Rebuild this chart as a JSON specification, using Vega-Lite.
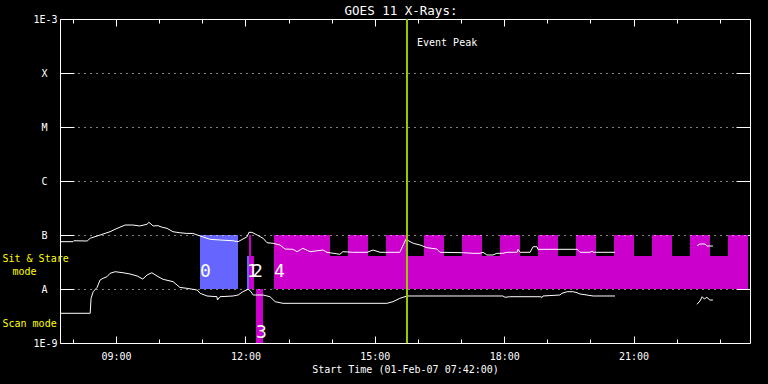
{
  "$schema": "https://vega.github.io/schema/vega-lite/v6.json",
  "width": 690,
  "height": 324,
  "autosize": {"type": "none"},
  "padding": {"left": 60, "top": 19, "right": 18, "bottom": 41},
  "background": "black",
  "config": {"view": {"stroke": null}, "font": "DejaVu Sans Mono"},
  "title": {"text": "GOES 11 X-Rays:", "color": "white", "font": "DejaVu Sans Mono", "fontSize": 12.5, "fontWeight": "normal", "anchor": "middle", "frame": "group", "offset": -13, "dx": -4, "baseline": "alphabetic"},
  "datasets": {
    "modes": [
      {"kind": "a", "t": 10.946, "t2": 11.828, "f": 1e-8, "f2": 1e-7},
      {"kind": "a", "t": 12.036, "t2": 12.083, "f": 1e-8, "f2": 4.08e-8},
      {"kind": "b", "t": 12.083, "t2": 12.129, "f": 1e-8, "f2": 1e-7},
      {"kind": "b", "t": 12.129, "t2": 12.199, "f": 1e-8, "f2": 4.08e-8},
      {"kind": "b", "t": 12.245, "t2": 12.407, "f": 1e-9, "f2": 1e-8},
      {"kind": "b", "t": 12.662, "t2": 23.654, "f": 1e-8, "f2": 4.08e-8},
      {"kind": "b", "t": 12.662, "t2": 13.961, "f": 4.08e-8, "f2": 1e-7},
      {"kind": "b", "t": 14.378, "t2": 14.842, "f": 4.08e-8, "f2": 1e-7},
      {"kind": "b", "t": 15.259, "t2": 15.723, "f": 4.08e-8, "f2": 1e-7},
      {"kind": "b", "t": 16.141, "t2": 16.604, "f": 4.08e-8, "f2": 1e-7},
      {"kind": "b", "t": 17.022, "t2": 17.486, "f": 4.08e-8, "f2": 1e-7},
      {"kind": "b", "t": 17.903, "t2": 18.367, "f": 4.08e-8, "f2": 1e-7},
      {"kind": "b", "t": 18.784, "t2": 19.248, "f": 4.08e-8, "f2": 1e-7},
      {"kind": "b", "t": 19.665, "t2": 20.129, "f": 4.08e-8, "f2": 1e-7},
      {"kind": "b", "t": 20.546, "t2": 21.010, "f": 4.08e-8, "f2": 1e-7},
      {"kind": "b", "t": 21.428, "t2": 21.891, "f": 4.08e-8, "f2": 1e-7},
      {"kind": "b", "t": 22.309, "t2": 22.772, "f": 4.08e-8, "f2": 1e-7},
      {"kind": "b", "t": 23.190, "t2": 23.654, "f": 4.08e-8, "f2": 1e-7}
    ],
    "modeLabels": [
      {"label": "0", "t": 10.946, "f": 2.07e-8},
      {"label": "1", "t": 12.036, "f": 2.07e-8},
      {"label": "2", "t": 12.152, "f": 2.07e-8},
      {"label": "3", "t": 12.245, "f": 1.56e-9},
      {"label": "4", "t": 12.662, "f": 2.07e-8}
    ],
    "event": [{"label": "Event Peak", "t": 15.746, "f": 3.6e-4}],
    "flux": [
      {"s": "L", "g": 1, "t": 7.70, "f": 7.52e-8}, {"s": "L", "g": 1, "t": 8.00, "f": 7.52e-8}, {"s": "L", "g": 1, "t": 8.02, "f": 7.83e-8}, {"s": "L", "g": 1, "t": 8.33, "f": 7.74e-8}, {"s": "L", "g": 1, "t": 8.40, "f": 8.69e-8}, {"s": "L", "g": 1, "t": 8.63, "f": 1.0e-7}, {"s": "L", "g": 1, "t": 8.86, "f": 1.15e-7}, {"s": "L", "g": 1, "t": 8.98, "f": 1.28e-7}, {"s": "L", "g": 1, "t": 9.21, "f": 1.53e-7}, {"s": "L", "g": 1, "t": 9.39, "f": 1.53e-7}, {"s": "L", "g": 1, "t": 9.55, "f": 1.47e-7}, {"s": "L", "g": 1, "t": 9.72, "f": 1.58e-7}, {"s": "L", "g": 1, "t": 9.76, "f": 1.72e-7}, {"s": "L", "g": 1, "t": 9.86, "f": 1.47e-7}, {"s": "L", "g": 1, "t": 9.97, "f": 1.49e-7}, {"s": "L", "g": 1, "t": 10.07, "f": 1.39e-7}, {"s": "L", "g": 1, "t": 10.18, "f": 1.33e-7}, {"s": "L", "g": 1, "t": 10.32, "f": 1.15e-7}, {"s": "L", "g": 1, "t": 10.48, "f": 1.10e-7}, {"s": "L", "g": 1, "t": 10.64, "f": 1.07e-7}, {"s": "L", "g": 1, "t": 10.78, "f": 1.07e-7}, {"s": "L", "g": 1, "t": 10.95, "f": 9.58e-8}, {"s": "L", "g": 1, "t": 11.18, "f": 8.32e-8}, {"s": "L", "g": 1, "t": 11.41, "f": 8.08e-8}, {"s": "L", "g": 1, "t": 11.71, "f": 7.83e-8}, {"s": "L", "g": 1, "t": 11.83, "f": 7.52e-8}, {"s": "L", "g": 1, "t": 12.04, "f": 9.30e-8}, {"s": "L", "g": 1, "t": 12.08, "f": 1.12e-7}, {"s": "L", "g": 1, "t": 12.15, "f": 1.12e-7}, {"s": "L", "g": 1, "t": 12.27, "f": 1.0e-7}, {"s": "L", "g": 1, "t": 12.41, "f": 8.69e-8}, {"s": "L", "g": 1, "t": 12.50, "f": 7.20e-8}, {"s": "L", "g": 1, "t": 12.64, "f": 7.02e-8}, {"s": "L", "g": 1, "t": 12.80, "f": 6.53e-8}, {"s": "L", "g": 1, "t": 12.92, "f": 5.50e-8}, {"s": "L", "g": 1, "t": 13.10, "f": 5.43e-8}, {"s": "L", "g": 1, "t": 13.20, "f": 4.91e-8}, {"s": "L", "g": 1, "t": 13.33, "f": 5.67e-8}, {"s": "L", "g": 1, "t": 13.50, "f": 4.91e-8}, {"s": "L", "g": 1, "t": 13.80, "f": 5.27e-8}, {"s": "L", "g": 1, "t": 13.89, "f": 4.78e-8}, {"s": "L", "g": 1, "t": 14.19, "f": 4.39e-8}, {"s": "L", "g": 1, "t": 14.26, "f": 4.91e-8}, {"s": "L", "g": 1, "t": 14.49, "f": 4.78e-8}, {"s": "L", "g": 1, "t": 14.82, "f": 4.78e-8}, {"s": "L", "g": 1, "t": 14.96, "f": 5.27e-8}, {"s": "L", "g": 1, "t": 15.12, "f": 4.78e-8}, {"s": "L", "g": 1, "t": 15.58, "f": 4.78e-8}, {"s": "L", "g": 1, "t": 15.72, "f": 8.32e-8}, {"s": "L", "g": 1, "t": 15.89, "f": 7.02e-8}, {"s": "L", "g": 1, "t": 16.05, "f": 6.53e-8}, {"s": "L", "g": 1, "t": 16.21, "f": 5.82e-8}, {"s": "L", "g": 1, "t": 16.44, "f": 5.50e-8}, {"s": "L", "g": 1, "t": 16.51, "f": 4.78e-8}, {"s": "L", "g": 1, "t": 17.05, "f": 4.70e-8}, {"s": "L", "g": 1, "t": 17.28, "f": 4.58e-8}, {"s": "L", "g": 1, "t": 17.44, "f": 4.58e-8}, {"s": "L", "g": 1, "t": 17.51, "f": 4.78e-8}, {"s": "L", "g": 1, "t": 17.60, "f": 4.26e-8}, {"s": "L", "g": 1, "t": 17.74, "f": 4.26e-8}, {"s": "L", "g": 1, "t": 17.83, "f": 4.58e-8}, {"s": "L", "g": 1, "t": 17.97, "f": 4.58e-8}, {"s": "L", "g": 1, "t": 18.07, "f": 4.78e-8}, {"s": "L", "g": 1, "t": 18.30, "f": 4.78e-8}, {"s": "L", "g": 1, "t": 18.32, "f": 5.43e-8}, {"s": "L", "g": 1, "t": 18.37, "f": 4.78e-8}, {"s": "L", "g": 1, "t": 18.60, "f": 4.78e-8}, {"s": "L", "g": 1, "t": 18.67, "f": 6.07e-8}, {"s": "L", "g": 1, "t": 18.76, "f": 6.07e-8}, {"s": "L", "g": 1, "t": 18.78, "f": 5.43e-8}, {"s": "L", "g": 1, "t": 19.69, "f": 5.43e-8}, {"s": "L", "g": 1, "t": 19.76, "f": 4.78e-8}, {"s": "L", "g": 1, "t": 19.99, "f": 4.78e-8}, {"s": "L", "g": 1, "t": 20.04, "f": 5.05e-8}, {"s": "L", "g": 1, "t": 20.06, "f": 4.78e-8}, {"s": "L", "g": 1, "t": 20.57, "f": 4.78e-8},
      {"s": "L", "g": 2, "t": 22.47, "f": 6.34e-8}, {"s": "L", "g": 2, "t": 22.54, "f": 6.81e-8}, {"s": "L", "g": 2, "t": 22.66, "f": 6.81e-8}, {"s": "L", "g": 2, "t": 22.70, "f": 6.25e-8}, {"s": "L", "g": 2, "t": 22.84, "f": 6.25e-8},
      {"s": "S", "g": 1, "t": 7.70, "f": 3.55e-9}, {"s": "S", "g": 1, "t": 8.40, "f": 3.55e-9}, {"s": "S", "g": 1, "t": 8.42, "f": 6.72e-9}, {"s": "S", "g": 1, "t": 8.47, "f": 8.91e-9}, {"s": "S", "g": 1, "t": 8.56, "f": 1.07e-8}, {"s": "S", "g": 1, "t": 8.63, "f": 1.47e-8}, {"s": "S", "g": 1, "t": 8.70, "f": 1.58e-8}, {"s": "S", "g": 1, "t": 8.79, "f": 1.69e-8}, {"s": "S", "g": 1, "t": 8.86, "f": 1.95e-8}, {"s": "S", "g": 1, "t": 8.98, "f": 2.09e-8}, {"s": "S", "g": 1, "t": 9.16, "f": 2.00e-8}, {"s": "S", "g": 1, "t": 9.32, "f": 1.90e-8}, {"s": "S", "g": 1, "t": 9.49, "f": 1.74e-8}, {"s": "S", "g": 1, "t": 9.62, "f": 1.53e-8}, {"s": "S", "g": 1, "t": 9.72, "f": 1.82e-8}, {"s": "S", "g": 1, "t": 9.83, "f": 2.00e-8}, {"s": "S", "g": 1, "t": 9.95, "f": 1.74e-8}, {"s": "S", "g": 1, "t": 10.09, "f": 1.51e-8}, {"s": "S", "g": 1, "t": 10.32, "f": 1.37e-8}, {"s": "S", "g": 1, "t": 10.48, "f": 1.07e-8}, {"s": "S", "g": 1, "t": 10.64, "f": 1.03e-8}, {"s": "S", "g": 1, "t": 10.88, "f": 9.58e-9}, {"s": "S", "g": 1, "t": 10.95, "f": 8.32e-9}, {"s": "S", "g": 1, "t": 11.11, "f": 7.42e-9}, {"s": "S", "g": 1, "t": 11.34, "f": 7.20e-9}, {"s": "S", "g": 1, "t": 11.35, "f": 6.25e-9}, {"s": "S", "g": 1, "t": 11.41, "f": 7.20e-9}, {"s": "S", "g": 1, "t": 11.71, "f": 7.42e-9}, {"s": "S", "g": 1, "t": 11.83, "f": 7.74e-9}, {"s": "S", "g": 1, "t": 11.94, "f": 8.91e-9}, {"s": "S", "g": 1, "t": 12.06, "f": 9.87e-9}, {"s": "S", "g": 1, "t": 12.11, "f": 9.30e-9}, {"s": "S", "g": 1, "t": 12.18, "f": 7.74e-9}, {"s": "S", "g": 1, "t": 12.41, "f": 7.74e-9}, {"s": "S", "g": 1, "t": 12.57, "f": 7.20e-9}, {"s": "S", "g": 1, "t": 12.69, "f": 5.82e-9}, {"s": "S", "g": 1, "t": 12.87, "f": 5.43e-9}, {"s": "S", "g": 1, "t": 15.28, "f": 5.43e-9}, {"s": "S", "g": 1, "t": 15.42, "f": 5.82e-9}, {"s": "S", "g": 1, "t": 15.58, "f": 6.72e-9}, {"s": "S", "g": 1, "t": 15.75, "f": 7.42e-9}, {"s": "S", "g": 1, "t": 17.97, "f": 7.42e-9}, {"s": "S", "g": 1, "t": 18.02, "f": 7.02e-9}, {"s": "S", "g": 1, "t": 18.13, "f": 7.20e-9}, {"s": "S", "g": 1, "t": 18.83, "f": 7.20e-9}, {"s": "S", "g": 1, "t": 18.88, "f": 7.02e-9}, {"s": "S", "g": 1, "t": 18.90, "f": 7.42e-9}, {"s": "S", "g": 1, "t": 19.29, "f": 7.74e-9}, {"s": "S", "g": 1, "t": 19.34, "f": 8.32e-9}, {"s": "S", "g": 1, "t": 19.46, "f": 8.91e-9}, {"s": "S", "g": 1, "t": 19.60, "f": 8.91e-9}, {"s": "S", "g": 1, "t": 19.69, "f": 8.53e-9}, {"s": "S", "g": 1, "t": 19.76, "f": 8.08e-9}, {"s": "S", "g": 1, "t": 19.92, "f": 7.74e-9}, {"s": "S", "g": 1, "t": 20.06, "f": 7.42e-9}, {"s": "S", "g": 1, "t": 20.57, "f": 7.42e-9},
      {"s": "S", "g": 2, "t": 22.47, "f": 5.21e-9}, {"s": "S", "g": 2, "t": 22.54, "f": 6.0e-9}, {"s": "S", "g": 2, "t": 22.59, "f": 7.20e-9}, {"s": "S", "g": 2, "t": 22.64, "f": 6.53e-9}, {"s": "S", "g": 2, "t": 22.70, "f": 7.02e-9}, {"s": "S", "g": 2, "t": 22.77, "f": 6.25e-9}, {"s": "S", "g": 2, "t": 22.84, "f": 6.25e-9}
    ]
  },
  "layer": [
    {
      "data": {"name": "modes"},
      "mark": {"type": "rect"},
      "encoding": {
        "x": {"field": "t", "type": "quantitative", "scale": {"domain": [7.7, 23.7], "nice": false, "zero": false},
          "axis": {"orient": "bottom", "values": [8, 9, 10, 11, 12, 13, 14, 15, 16, 17, 18, 19, 20, 21, 22, 23],
            "labelExpr": "datum.value % 3 == 0 ? (datum.value < 10 ? '0' : '') + datum.value + ':00' : ''",
            "tickSize": {"condition": {"test": "datum.value % 3 == 0", "value": -7}, "value": -4},
            "labelPadding": 15, "grid": false, "domainColor": "white", "tickColor": "white", "labelColor": "white",
            "labelFont": "DejaVu Sans Mono", "labelFontSize": 10, "labelOverlap": false, "labelFlush": false,
            "title": "Start Time (01-Feb-07 07:42:00)", "titleColor": "white", "titleFont": "DejaVu Sans Mono",
            "titleFontSize": 10, "titleFontWeight": "normal", "titlePadding": 0, "domainWidth": 1, "tickWidth": 1, "zindex": 1}},
        "x2": {"field": "t2"},
        "y": {"field": "f", "type": "quantitative", "scale": {"type": "log", "domain": [1e-9, 1e-3], "nice": false},
          "axis": {"orient": "left", "values": [1e-9, 2.25e-9, 1e-8, 2.15e-8, 3.75e-8, 1e-7, 1e-6, 1e-5, 1e-4, 1e-3],
            "labelExpr": "datum.value == 1e-9 ? '1E-9' : datum.value == 1e-3 ? '1E-3' : datum.value == 1e-8 ? 'A' : datum.value == 1e-7 ? 'B' : datum.value == 1e-6 ? 'C' : datum.value == 1e-5 ? 'M' : datum.value == 1e-4 ? 'X' : datum.value == 2.25e-9 ? 'Scan mode' : datum.value == 2.15e-8 ? 'mode' : 'Sit & Stare'",
            "tickSize": -14,
            "tickOpacity": {"condition": {"test": "datum.value == 2.25e-9 || datum.value == 2.15e-8 || datum.value == 3.75e-8", "value": 0}, "value": 1},
            "grid": true, "gridColor": "white", "gridDash": [1, 5], "gridWidth": 1,
            "gridOpacity": {"condition": {"test": "datum.value == 2.25e-9 || datum.value == 2.15e-8 || datum.value == 3.75e-8 || datum.value == 1e-9 || datum.value == 1e-3", "value": 0}, "value": 1},
            "labelColor": {"condition": {"test": "datum.value == 2.25e-9 || datum.value == 2.15e-8 || datum.value == 3.75e-8", "value": "#FFFF00"}, "value": "white"},
            "labelAlign": {"condition": {"test": "datum.value == 2.25e-9 || datum.value == 2.15e-8 || datum.value == 3.75e-8", "value": "left"}, "value": "right"},
            "labelPadding": {"condition": [
              {"test": "datum.value == 2.25e-9 || datum.value == 3.75e-8", "value": 72},
              {"test": "datum.value == 2.15e-8", "value": 62},
              {"test": "datum.value == 1e-9 || datum.value == 1e-3", "value": 17}
            ], "value": 27},
            "labelBaseline": "middle", "labelFont": "DejaVu Sans Mono", "labelFontSize": 10,
            "labelOverlap": false, "labelBound": false, "title": null, "zindex": 1,
            "domainColor": "white", "tickColor": "white", "domainWidth": 1, "tickWidth": 1}},
        "y2": {"field": "f2"},
        "color": {"field": "kind", "type": "nominal", "scale": {"domain": ["a", "b"], "range": ["#6666FF", "#CC00CC"]}, "legend": null}
      }
    },
    {
      "data": {"name": "flux"},
      "mark": {"type": "line", "color": "white", "strokeWidth": 1},
      "encoding": {
        "x": {"field": "t", "type": "quantitative",
          "axis": {"orient": "top", "values": [8, 9, 10, 11, 12, 13, 14, 15, 16, 17, 18, 19, 20, 21, 22, 23], "labels": false,
            "tickSize": {"condition": {"test": "datum.value % 3 == 0", "value": -7}, "value": -4},
            "grid": false, "title": null, "domainColor": "white", "tickColor": "white", "domainWidth": 1, "tickWidth": 1}},
        "y": {"field": "f", "type": "quantitative",
          "axis": {"orient": "right", "values": [1e-8, 1e-7, 1e-6, 1e-5, 1e-4], "labels": false, "tickSize": -14,
            "grid": false, "title": null, "domainColor": "white", "tickColor": "white", "domainWidth": 1, "tickWidth": 1}},
        "detail": [{"field": "s"}, {"field": "g"}]
      }
    },
    {
      "data": {"name": "event"},
      "mark": {"type": "rule", "color": "#99CC00", "strokeWidth": 2},
      "encoding": {"x": {"field": "t", "type": "quantitative", "axis": null}}
    },
    {
      "data": {"name": "event"},
      "mark": {"type": "text", "color": "white", "align": "left", "baseline": "middle", "dx": 10, "fontSize": 10, "font": "DejaVu Sans Mono"},
      "encoding": {
        "x": {"field": "t", "type": "quantitative", "axis": null},
        "y": {"field": "f", "type": "quantitative", "axis": null},
        "text": {"field": "label"}
      }
    },
    {
      "data": {"name": "modeLabels"},
      "mark": {"type": "text", "color": "white", "align": "left", "baseline": "middle", "fontSize": 18, "font": "DejaVu Sans Mono"},
      "encoding": {
        "x": {"field": "t", "type": "quantitative", "axis": null},
        "y": {"field": "f", "type": "quantitative", "axis": null},
        "text": {"field": "label"}
      }
    }
  ],
  "resolve": {"axis": {"x": "independent", "y": "independent"}}
}
